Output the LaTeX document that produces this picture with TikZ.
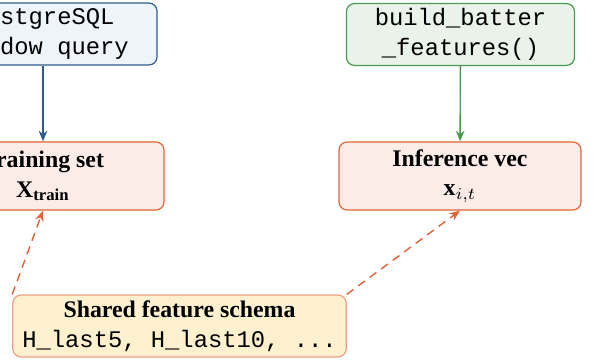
\documentclass[tikz,border=0pt]{standalone}
\usepackage{fontspec}
\setmainfont{Liberation Serif}
\setmonofont{Liberation Mono}
\usetikzlibrary{arrows.meta}
\definecolor{pgfill}{HTML}{EEF5FA}
\definecolor{pgdraw}{HTML}{2E5A8C}
\definecolor{bbfill}{HTML}{E9F3EA}
\definecolor{bbdraw}{HTML}{4A9A50}
\definecolor{rfill}{HTML}{FBECE8}
\definecolor{rdraw}{HTML}{E0643A}
\definecolor{sfill}{HTML}{FCF0CF}
\definecolor{sdraw}{HTML}{EE9F80}
\tikzset{
  boxbase/.style={rounded corners=3.4pt, line width=0.5pt, align=center, inner sep=0pt, font=\fontsize{10}{12.5}\selectfont},
  srcbox/.style={boxbase, minimum width=95.8pt, minimum height=26pt},
  resbox/.style={boxbase, minimum width=101.6pt, minimum height=28.6pt, draw=rdraw, fill=rfill},
  arr/.style={-{Stealth[length=4.5pt,width=3.6pt]}, line width=0.6pt},
  darr/.style={-{Stealth[length=4.5pt,width=3.6pt]}, line width=0.6pt, dash pattern=on 3.5pt off 2.5pt, draw=rdraw},
}
\begin{document}
\begin{tikzpicture}[x=0.42pt,y=-0.42pt]
\useasboundingbox (0,0) rectangle (595,362);
\node[srcbox, draw=pgdraw, fill=pgfill] (pg) at (43,34) {\ttfamily PostgreSQL\\\ttfamily window query};
\node[srcbox, draw=bbdraw, fill=bbfill] (bb) at (460.5,34.5) {\ttfamily build\_batter\\\ttfamily \_features()};
\node[resbox] (train) at (43,176) {\textbf{Training set}\\$\mathbf{X}_{\mathbf{train}}$};
\node[resbox] (inf) at (460,176) {\textbf{Inference vec}\\$\mathbf{x}_{i,t}$};
\node[boxbase, minimum width=140pt, minimum height=26pt, draw=sdraw, fill=sfill] (sh) at (179.5,326) {\textbf{Shared feature schema}\\\ttfamily H\_last5, H\_last10, ...};
\draw[arr, pgdraw] (pg) -- (train);
\draw[arr, bbdraw] (bb) -- (inf);
\draw[darr] (sh.north west) -- (train.south);
\draw[darr] (sh.north east) -- (inf.south);
\end{tikzpicture}
\end{document}
